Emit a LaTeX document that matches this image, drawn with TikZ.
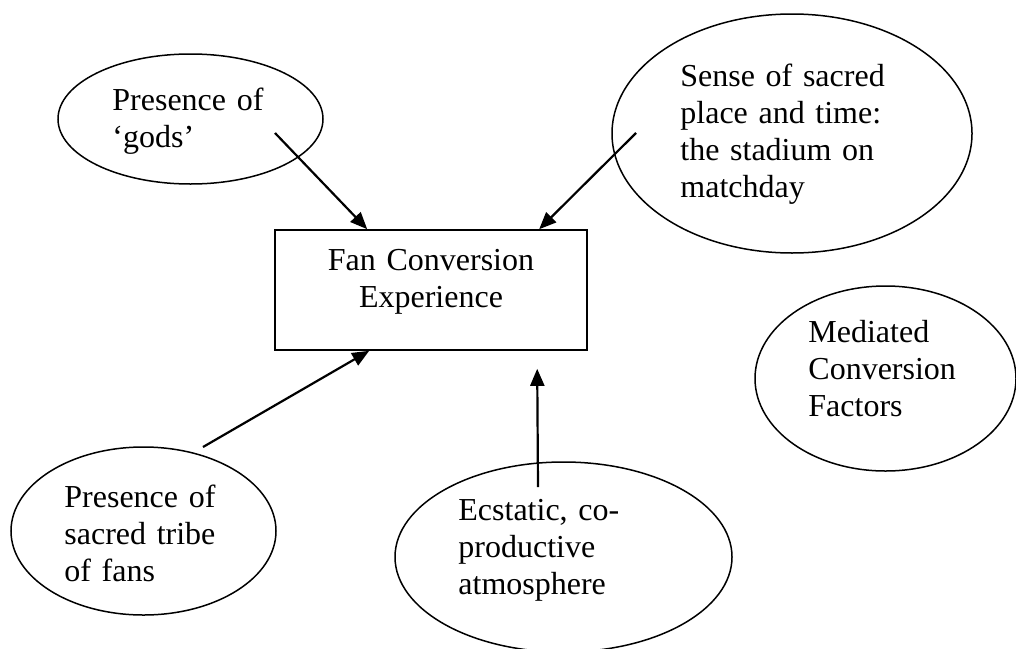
\documentclass[tikz,border=0pt]{standalone}
\usepackage{fontspec}
\setmainfont{Liberation Serif}
\usetikzlibrary{positioning,calc,arrows.meta,shapes.geometric}
\tikzset{>=stealth}
\tikzset{
  bubble/.style={draw,ellipse,line width=0.75pt,inner sep=0pt},
  box/.style={draw,rectangle,line width=0.8pt,inner sep=0pt},
  words/.style={anchor=base west,inner sep=0pt,align=left,text width=200pt,
    font=\fontsize{16}{18.5}\selectfont},
  link/.style={-{Triangle[length=8.5pt,width=7pt]},line width=1.1pt}
}

\begin{document}
\begin{tikzpicture}[x=0.5pt,y=-0.5pt]
% One unit is one pixel, y runs down

\clip (0,0) rectangle (1016,648);

% Draw central box
\node[box,minimum width=156pt,minimum height=60pt] (fce) at (431,290) {};
\node[words,anchor=base,align=center,text width=156pt] (fcetext) at (431,270)
   {Fan Conversion\\Experience};

% Draw ellipses round the box
\node[bubble,minimum width=132.5pt,minimum height=65pt] (gods) at (190.5,119) {};
\node[words] (godstext) at (112,110) {Presence of\\‘gods’};

\node[bubble,minimum width=180pt,minimum height=119.5pt] (place) at (792,133.5) {};
\node[words] (placetext) at (680,86)
   {Sense of sacred\\place and time:\\the stadium on\\matchday};

\node[bubble,minimum width=130.5pt,minimum height=92.5pt] (media) at (885.5,378.5) {};
\node[words] (mediatext) at (808,342) {Mediated\\Conversion\\Factors};

\node[bubble,minimum width=132.5pt,minimum height=84pt] (tribe) at (143.5,531) {};
\node[words] (tribetext) at (64,507) {Presence of\\sacred tribe\\of fans};

\node[bubble,minimum width=168.5pt,minimum height=95pt] (atmos) at (563.5,557) {};
\node[words] (atmostext) at (458,520) {Ecstatic, co-\\productive\\atmosphere};

% Arrow ends
\coordinate (godsout) at (275,133);
\coordinate (godsin) at ($(fce.north west)+(93,0)$);
\coordinate (placeout) at (636,133);
\coordinate (placein) at ($(fce.north west)+(265,0)$);
\coordinate (tribeout) at (203,447);
\coordinate (tribein) at ($(fce.south west)+(95,0)$);
\coordinate (atmosout) at (538,487);
\coordinate (atmosin) at ($(fce.south west)+(263,18)$);

% Draw arrows into the box
\draw[link] (godsout) -- (godsin);
\draw[link] (placeout) -- (placein);
\draw[link] (tribeout) -- (tribein);
\draw[link] (atmosout) -- (atmosin);
\end{tikzpicture}
\end{document}
